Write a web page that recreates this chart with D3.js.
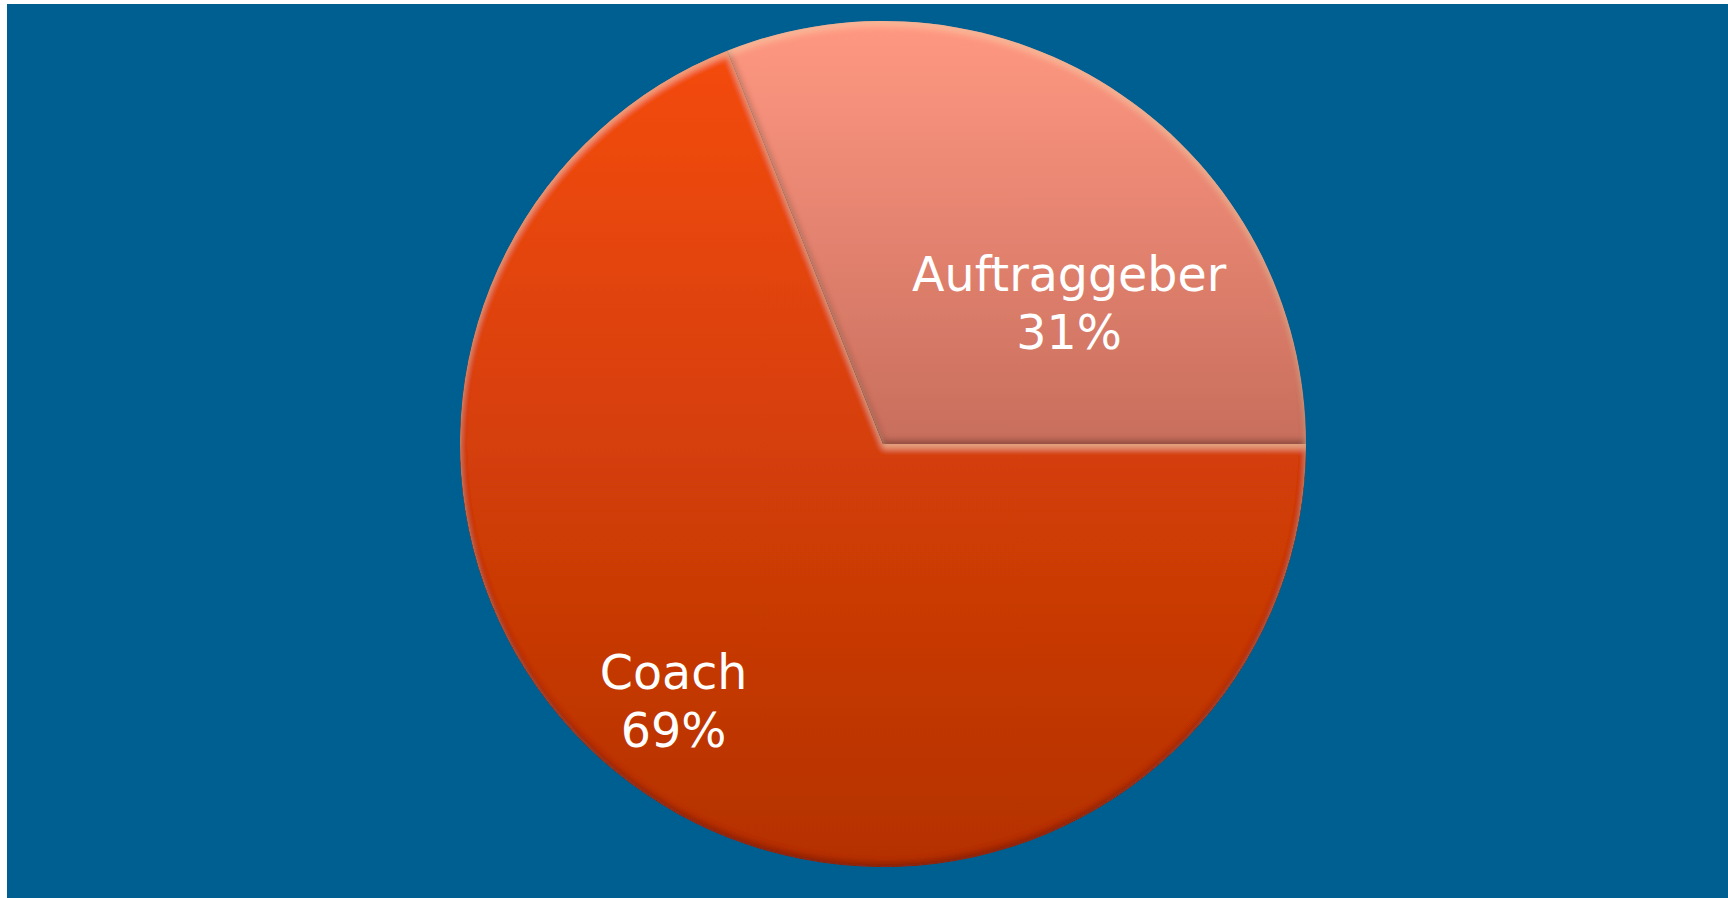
<!DOCTYPE html>
<html>
<head>
<meta charset="utf-8">
<script src="https://cdn.jsdelivr.net/npm/d3@7"></script>
<style>
  html, body { margin: 0; padding: 0; background: #ffffff; }
  svg { display: block; }
</style>
</head>
<body>
<svg id="canvas" width="1728" height="898"></svg>
<script>
// chart data
let categories = ['Coach', 'Auftraggeber'];
let shares = [69, 31];
let percentLabels = ['69%', '31%'];

// colours: [top, bottom] of each slice gradient
let sliceColors = [['#f44b0a', '#b43204'], ['#ff9882', '#c86e5d']];

let width = 1728;
let height = 898;
let cx = 883;
let cy = 444;
let radius = 423;

// where the label block sits, as fraction of radius from the centre
let labelAnchor = [[-0.495, 0.61], [0.44, -0.33]];

let canvas = d3.select('#canvas');

// background panel
canvas.append('rect')
    .attr('x', 7)
    .attr('y', 4)
    .attr('width', width - 7)
    .attr('height', height - 4)
    .attr('fill', '#005f91');

let defs = canvas.append('defs');

// per slice vertical gradients
sliceColors.forEach((c, i) => {
    let g = defs.append('linearGradient')
        .attr('id', 'grad' + i)
        .attr('x1', 0).attr('y1', 0)
        .attr('x2', 0).attr('y2', 1);
    g.append('stop').attr('offset', '0%').attr('stop-color', c[0]);
    g.append('stop').attr('offset', '100%').attr('stop-color', c[1]);
});

// bevel-ish filter: light top edges, dark bottom edges, darker rim
let f = defs.append('filter')
    .attr('id', 'bevel')
    .attr('x', '-5%').attr('y', '-5%')
    .attr('width', '110%').attr('height', '110%');
f.append('feGaussianBlur').attr('in', 'SourceAlpha').attr('stdDeviation', 3).attr('result', 'b');
f.append('feOffset').attr('in', 'b').attr('dy', 5).attr('result', 'bDown');
f.append('feComposite').attr('in', 'SourceAlpha').attr('in2', 'bDown')
    .attr('operator', 'arithmetic').attr('k2', 1).attr('k3', -1).attr('result', 'topEdge');
f.append('feFlood').attr('flood-color', '#ffd8b0').attr('flood-opacity', 0.5);
f.append('feComposite').attr('in2', 'topEdge').attr('operator', 'in').attr('result', 'hi');
f.append('feOffset').attr('in', 'b').attr('dy', -4).attr('result', 'bUp');
f.append('feComposite').attr('in', 'SourceAlpha').attr('in2', 'bUp')
    .attr('operator', 'arithmetic').attr('k2', 1).attr('k3', -1).attr('result', 'botEdge');
f.append('feFlood').attr('flood-color', '#000').attr('flood-opacity', 0.45);
f.append('feComposite').attr('in2', 'botEdge').attr('operator', 'in').attr('result', 'lo');
f.append('feComposite').attr('in', 'SourceAlpha').attr('in2', 'b')
    .attr('operator', 'arithmetic').attr('k2', 1).attr('k3', -1).attr('result', 'rimEdge');
f.append('feFlood').attr('flood-color', '#5a1000').attr('flood-opacity', 0.35);
f.append('feComposite').attr('in2', 'rimEdge').attr('operator', 'in').attr('result', 'rim');
let merge = f.append('feMerge');
merge.append('feMergeNode').attr('in', 'SourceGraphic');
merge.append('feMergeNode').attr('in', 'rim');
merge.append('feMergeNode').attr('in', 'lo');
merge.append('feMergeNode').attr('in', 'hi');

let data = categories.map((c, i) => ({ name: c, value: shares[i], pct: percentLabels[i], idx: i }));

// first slice starts at 3 o'clock and runs clockwise
let pie = d3.pie()
    .sort(null)
    .value(d => d.value)
    .startAngle(Math.PI / 2)
    .endAngle(Math.PI / 2 + 2 * Math.PI);

let arc = d3.arc()
    .innerRadius(0)
    .outerRadius(radius);

let g = canvas.append('g')
    .attr('transform', 'translate(' + cx + ',' + cy + ')');

g.selectAll('path')
    .data(pie(data))
    .enter()
    .append('path')
    .attr('d', arc)
    .attr('fill', d => 'url(#grad' + d.data.idx + ')')
    .attr('filter', 'url(#bevel)');

// labels
let labels = g.selectAll('text.label')
    .data(pie(data))
    .enter()
    .append('text')
    .attr('class', 'label')
    .attr('text-anchor', 'middle')
    .attr('font-family', 'DejaVu Sans, Verdana, sans-serif')
    .attr('font-size', 47.5)
    .attr('fill', '#ffffff')
    .attr('transform', d => {
        let a = labelAnchor[d.data.idx];
        return 'translate(' + (a[0] * radius) + ',' + (a[1] * radius) + ')';
    });

labels.append('tspan')
    .attr('x', 0)
    .attr('y', -13)
    .text(d => d.data.name);

labels.append('tspan')
    .attr('x', 0)
    .attr('y', 45)
    .text(d => d.data.pct);
</script>
</body>
</html>
